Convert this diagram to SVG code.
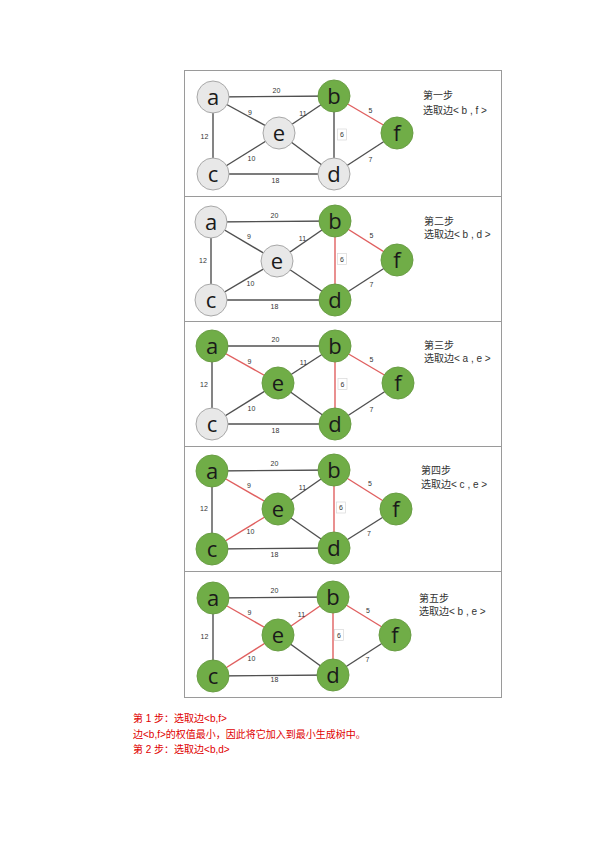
<svg xmlns="http://www.w3.org/2000/svg" width="595" height="842" viewBox="0 0 595 842">
<style>
.frame{fill:none;stroke:#9a9a9a;stroke-width:1}
.div{stroke:#9a9a9a;stroke-width:1}
.e{stroke:#505050;stroke-width:1.4;fill:none}
.r{stroke:#e06060;stroke-width:1.4;fill:none}
.g circle{fill:#70ad47;stroke:#6a9e45;stroke-width:1}
.w circle{fill:#e8e8e8;stroke:#a8a8a8;stroke-width:1}
.nt{font-family:"Open Sans","Noto Sans",sans-serif;font-size:22px;fill:#1a1a1a;text-anchor:middle}
.el{font-family:"Liberation Sans",Arial,sans-serif;font-size:7px;fill:#333;text-anchor:middle}
.box{fill:#fff;stroke:#d8d8d8;stroke-width:0.7}
.st{font-family:"Liberation Sans","Noto Sans CJK SC",sans-serif;font-size:10px;fill:#333}
.bt{font-family:"Liberation Sans","Noto Sans CJK SC",sans-serif;font-size:10px;fill:#e00000}
</style>
<rect x="0" y="0" width="595" height="842" fill="#ffffff"/>
<g id="frame">
<rect class="frame" x="184.5" y="70.5" width="317" height="627"/>
<line class="div" x1="184.5" y1="196.5" x2="501.5" y2="196.5"/>
<line class="div" x1="184.5" y1="321.5" x2="501.5" y2="321.5"/>
<line class="div" x1="184.5" y1="446.5" x2="501.5" y2="446.5"/>
<line class="div" x1="184.5" y1="571.5" x2="501.5" y2="571.5"/>
</g>

<!-- Panel 1 -->
<g id="connectors1">
<line class="e" x1="213" y1="97" x2="334" y2="96"/>
<line class="e" x1="213" y1="97" x2="279" y2="133"/>
<line class="e" x1="213" y1="97" x2="213" y2="174"/>
<line class="e" x1="279" y1="133" x2="334" y2="96"/>
<line class="e" x1="279" y1="133" x2="213" y2="174"/>
<line class="e" x1="279" y1="133" x2="334" y2="174"/>
<line class="e" x1="334" y1="96" x2="334" y2="174"/>
<line class="r" x1="334" y1="96" x2="397" y2="133"/>
<line class="e" x1="397" y1="133" x2="334" y2="174"/>
<line class="e" x1="213" y1="174" x2="334" y2="174"/>
<rect class="box" x="337.5" y="129" width="9" height="11"/>
<text class="el" x="276.5" y="92.5">20</text>
<text class="el" x="250" y="114.5">9</text>
<text class="el" x="303" y="115.5">11</text>
<text class="el" x="204.5" y="138.5">12</text>
<text class="el" x="342" y="137">6</text>
<text class="el" x="251.5" y="160.5">10</text>
<text class="el" x="370.5" y="112.5">5</text>
<text class="el" x="370.5" y="161.5">7</text>
<text class="el" x="275.5" y="182.5">18</text>
</g>
<g id="p1a" class="w"><circle cx="213" cy="97" r="16"/><text class="nt" x="213" y="104.5">a</text></g>
<g id="p1b" class="g"><circle cx="334" cy="96" r="16"/><text class="nt" x="334" y="103.5">b</text></g>
<g id="p1e" class="w"><circle cx="279" cy="133" r="16"/><text class="nt" x="279" y="140.5">e</text></g>
<g id="p1f" class="g"><circle cx="397" cy="133" r="16"/><text class="nt" x="397" y="140.5">f</text></g>
<g id="p1c" class="w"><circle cx="213" cy="174" r="16"/><text class="nt" x="213" y="181.5">c</text></g>
<g id="p1d" class="w"><circle cx="334" cy="174" r="16"/><text class="nt" x="334" y="181.5">d</text></g>
<g id="p1label"><text class="st" x="423" y="99">第一步</text><text class="st" x="423" y="113.5">选取边&lt; b , f &gt;</text></g>

<!-- Panel 2 -->
<g id="connectors2">
<line class="e" x1="211" y1="222" x2="335" y2="221"/>
<line class="e" x1="211" y1="222" x2="277" y2="261"/>
<line class="e" x1="211" y1="222" x2="211" y2="300"/>
<line class="e" x1="277" y1="261" x2="335" y2="221"/>
<line class="e" x1="277" y1="261" x2="211" y2="300"/>
<line class="e" x1="277" y1="261" x2="335" y2="300"/>
<line class="r" x1="335" y1="221" x2="335" y2="300"/>
<line class="r" x1="335" y1="221" x2="397" y2="260"/>
<line class="e" x1="397" y1="260" x2="335" y2="300"/>
<line class="e" x1="211" y1="300" x2="335" y2="300"/>
<rect class="box" x="337.5" y="253.5" width="9" height="11"/>
<text class="el" x="274.5" y="217.5">20</text>
<text class="el" x="249" y="239">9</text>
<text class="el" x="302.5" y="241">11</text>
<text class="el" x="203" y="262.5">12</text>
<text class="el" x="342" y="261.5">6</text>
<text class="el" x="250.5" y="285.5">10</text>
<text class="el" x="371.5" y="237.5">5</text>
<text class="el" x="371.5" y="286.5">7</text>
<text class="el" x="274.5" y="308.5">18</text>
</g>
<g id="p2a" class="w"><circle cx="211" cy="222" r="16"/><text class="nt" x="211" y="229.5">a</text></g>
<g id="p2b" class="g"><circle cx="335" cy="221" r="16"/><text class="nt" x="335" y="228.5">b</text></g>
<g id="p2e" class="w"><circle cx="277" cy="261" r="16"/><text class="nt" x="277" y="268.5">e</text></g>
<g id="p2f" class="g"><circle cx="397" cy="260" r="16"/><text class="nt" x="397" y="267.5">f</text></g>
<g id="p2c" class="w"><circle cx="211" cy="300" r="16"/><text class="nt" x="211" y="307.5">c</text></g>
<g id="p2d" class="g"><circle cx="335" cy="300" r="16"/><text class="nt" x="335" y="307.5">d</text></g>
<g id="p2label"><text class="st" x="424" y="225">第二步</text><text class="st" x="424" y="238">选取边&lt; b , d &gt;</text></g>

<!-- Panel 3 -->
<g id="connectors3">
<line class="e" x1="212" y1="346" x2="335" y2="346"/>
<line class="r" x1="212" y1="346" x2="278" y2="383"/>
<line class="e" x1="212" y1="346" x2="212" y2="424"/>
<line class="e" x1="278" y1="383" x2="335" y2="346"/>
<line class="e" x1="278" y1="383" x2="212" y2="424"/>
<line class="e" x1="278" y1="383" x2="335" y2="424"/>
<line class="r" x1="335" y1="346" x2="335" y2="424"/>
<line class="r" x1="335" y1="346" x2="398" y2="383"/>
<line class="e" x1="398" y1="383" x2="335" y2="424"/>
<line class="e" x1="212" y1="424" x2="335" y2="424"/>
<rect class="box" x="338" y="378.5" width="9" height="11"/>
<text class="el" x="275.5" y="341.5">20</text>
<text class="el" x="249.5" y="364">9</text>
<text class="el" x="303.5" y="365">11</text>
<text class="el" x="204" y="386.5">12</text>
<text class="el" x="342.5" y="386.5">6</text>
<text class="el" x="251.5" y="410.5">10</text>
<text class="el" x="371.5" y="361.5">5</text>
<text class="el" x="371.5" y="411.5">7</text>
<text class="el" x="275.5" y="433">18</text>
</g>
<g id="p3a" class="g"><circle cx="212" cy="346" r="16"/><text class="nt" x="212" y="353.5">a</text></g>
<g id="p3b" class="g"><circle cx="335" cy="346" r="16"/><text class="nt" x="335" y="353.5">b</text></g>
<g id="p3e" class="g"><circle cx="278" cy="383" r="16"/><text class="nt" x="278" y="390.5">e</text></g>
<g id="p3f" class="g"><circle cx="398" cy="383" r="16"/><text class="nt" x="398" y="390.5">f</text></g>
<g id="p3c" class="w"><circle cx="212" cy="424" r="16"/><text class="nt" x="212" y="431.5">c</text></g>
<g id="p3d" class="g"><circle cx="335" cy="424" r="16"/><text class="nt" x="335" y="431.5">d</text></g>
<g id="p3label"><text class="st" x="424" y="349">第三步</text><text class="st" x="424" y="362">选取边&lt; a , e &gt;</text></g>

<!-- Panel 4 -->
<g id="connectors4">
<line class="e" x1="212" y1="471" x2="334" y2="470"/>
<line class="r" x1="212" y1="471" x2="278" y2="509"/>
<line class="e" x1="212" y1="471" x2="212" y2="549"/>
<line class="e" x1="278" y1="509" x2="334" y2="470"/>
<line class="r" x1="278" y1="509" x2="212" y2="549"/>
<line class="e" x1="278" y1="509" x2="334" y2="548"/>
<line class="r" x1="334" y1="470" x2="334" y2="548"/>
<line class="r" x1="334" y1="470" x2="396" y2="509"/>
<line class="e" x1="396" y1="509" x2="334" y2="548"/>
<line class="e" x1="212" y1="549" x2="334" y2="548"/>
<rect class="box" x="336.5" y="502" width="9" height="11"/>
<text class="el" x="274.5" y="466">20</text>
<text class="el" x="249" y="488">9</text>
<text class="el" x="302.5" y="490">11</text>
<text class="el" x="204" y="510.5">12</text>
<text class="el" x="341" y="510">6</text>
<text class="el" x="250.5" y="533.5">10</text>
<text class="el" x="370" y="486">5</text>
<text class="el" x="369" y="535.5">7</text>
<text class="el" x="274.5" y="557">18</text>
</g>
<g id="p4a" class="g"><circle cx="212" cy="471" r="16"/><text class="nt" x="212" y="478.5">a</text></g>
<g id="p4b" class="g"><circle cx="334" cy="470" r="16"/><text class="nt" x="334" y="477.5">b</text></g>
<g id="p4e" class="g"><circle cx="278" cy="509" r="16"/><text class="nt" x="278" y="516.5">e</text></g>
<g id="p4f" class="g"><circle cx="396" cy="509" r="16"/><text class="nt" x="396" y="516.5">f</text></g>
<g id="p4c" class="g"><circle cx="212" cy="549" r="16"/><text class="nt" x="212" y="556.5">c</text></g>
<g id="p4d" class="g"><circle cx="334" cy="548" r="16"/><text class="nt" x="334" y="555.5">d</text></g>
<g id="p4label"><text class="st" x="421" y="474">第四步</text><text class="st" x="421" y="487.5">选取边&lt; c , e &gt;</text></g>

<!-- Panel 5 -->
<g id="connectors5">
<line class="e" x1="213" y1="598" x2="333" y2="597"/>
<line class="r" x1="213" y1="598" x2="278" y2="635"/>
<line class="e" x1="213" y1="598" x2="213" y2="676"/>
<line class="r" x1="278" y1="635" x2="333" y2="597"/>
<line class="r" x1="278" y1="635" x2="213" y2="676"/>
<line class="e" x1="278" y1="635" x2="333" y2="675"/>
<line class="r" x1="333" y1="597" x2="333" y2="675"/>
<line class="r" x1="333" y1="597" x2="395" y2="635"/>
<line class="e" x1="395" y1="635" x2="333" y2="675"/>
<line class="e" x1="213" y1="676" x2="333" y2="675"/>
<rect class="box" x="334.5" y="629.5" width="9" height="11"/>
<text class="el" x="274.5" y="593">20</text>
<text class="el" x="249.5" y="615">9</text>
<text class="el" x="301.5" y="616.5">11</text>
<text class="el" x="204.5" y="638.5">12</text>
<text class="el" x="339" y="637.5">6</text>
<text class="el" x="251.5" y="660.5">10</text>
<text class="el" x="368" y="613">5</text>
<text class="el" x="367.5" y="661.5">7</text>
<text class="el" x="274.5" y="681.5">18</text>
</g>
<g id="p5a" class="g"><circle cx="213" cy="598" r="16"/><text class="nt" x="213" y="605.5">a</text></g>
<g id="p5b" class="g"><circle cx="333" cy="597" r="16"/><text class="nt" x="333" y="604.5">b</text></g>
<g id="p5e" class="g"><circle cx="278" cy="635" r="16"/><text class="nt" x="278" y="642.5">e</text></g>
<g id="p5f" class="g"><circle cx="395" cy="635" r="16"/><text class="nt" x="395" y="642.5">f</text></g>
<g id="p5c" class="g"><circle cx="213" cy="676" r="16"/><text class="nt" x="213" y="683.5">c</text></g>
<g id="p5d" class="g"><circle cx="333" cy="675" r="16"/><text class="nt" x="333" y="682.5">d</text></g>
<g id="p5label"><text class="st" x="419" y="602">第五步</text><text class="st" x="419" y="614.5">选取边&lt; b , e &gt;</text></g>

<g id="notes">
<text class="bt" x="133" y="721.5">第 1 步：选取边&lt;b,f&gt;</text>
<text class="bt" x="133" y="737.5">边&lt;b,f&gt;的权值最小，因此将它加入到最小生成树中。</text>
<text class="bt" x="133" y="753">第 2 步：选取边&lt;b,d&gt;</text>
</g>
</svg>
